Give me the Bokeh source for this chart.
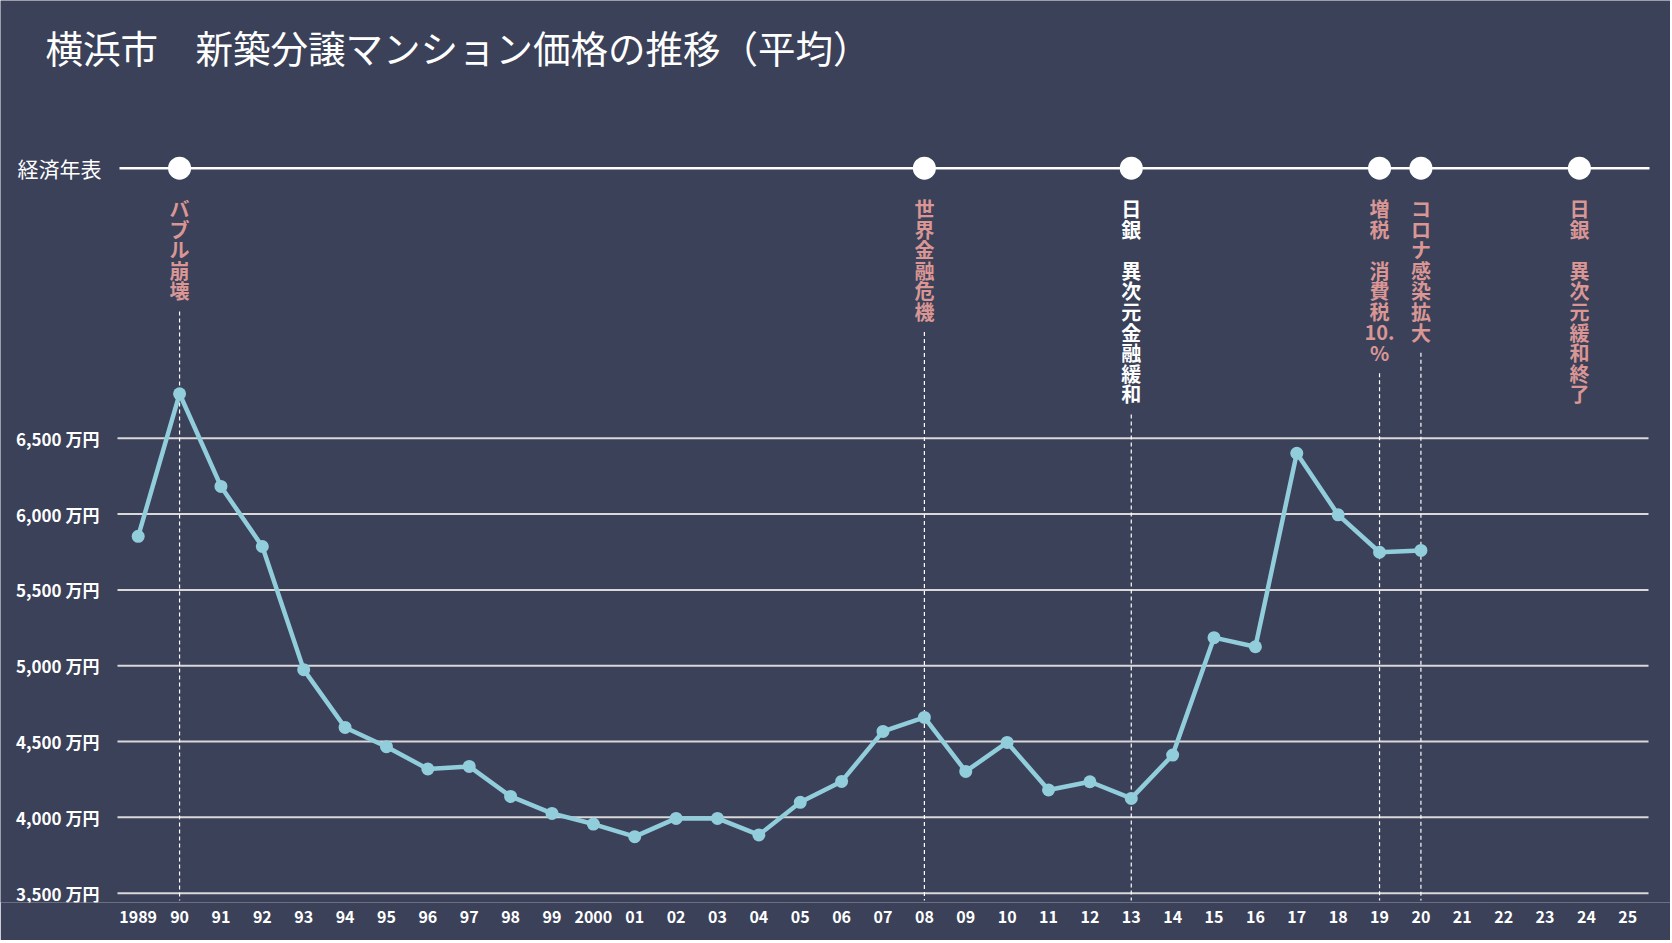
import re
from bokeh.plotting import figure
from bokeh.models import ColumnDataSource, Range1d, FixedTicker
from bokeh.core.properties import value
from bokeh.embed import file_html
from bokeh.resources import INLINE

# ---------------- data ----------------
title_text = "横浜市　新築分譲マンション価格の推移（平均）"
years = list(range(1989, 2021))
prices = [5853, 6793, 6182, 5786, 4974, 4593, 4466, 4319, 4336, 4138,
          4026, 3956, 3873, 3993, 3993, 3884, 4099, 4237, 4567, 4659,
          4303, 4494, 4181, 4235, 4125, 4411, 5185, 5125, 6401, 5995,
          5748, 5760]
y_ticks = [3500, 4000, 4500, 5000, 5500, 6000, 6500]
x_ticks = list(range(1989, 2026))
x_tick_labels = [str(y) if y in (1989, 2000) else f"{y % 100:02d}" for y in x_ticks]

timeline_label = "経済年表"
event_years = [1990, 2008, 2013, 2019, 2020, 2023.83]
event_labels = ["バブル崩壊", "世界金融危機", "日銀　異次元金融緩和",
                "増税　消費税10.%", "コロナ感染拡大", "日銀　異次元緩和終了"]
event_colors = ["#d99694", "#d99694", "#ffffff", "#d99694", "#d99694", "#d99694"]
event_has_line = [True, True, True, True, True, False]

# ---------------- style / layout ----------------
BG = "#3a4159"
LINE = "#92cddc"
GRID = "#d9d9d9"
FONT = "Noto Sans CJK JP"

W, H = 1670, 940
PX_PER_500 = 75.83
UPX = 500.0 / PX_PER_500            # value units per pixel
Y3500 = 892.7                        # page px of the 3,500 line
X0, X1 = 117, 1648                   # page px of the year band area
XPX = (X1 - X0) / 37.0
FRAME_BOTTOM = 902

def yv(py):
    return 3500 + (Y3500 - py) * UPX

def xv(px):
    return 1988.5 + (px - X0) / XPX

p = figure(width=W, height=H, output_backend="svg", toolbar_location=None,
           x_range=Range1d(xv(0), xv(W)), y_range=Range1d(yv(FRAME_BOTTOM), yv(0)),
           background_fill_color=BG, border_fill_color=BG,
           min_border_left=0, min_border_right=0,
           min_border_top=0, min_border_bottom=H - FRAME_BOTTOM)
p.outline_line_color = None
p.xgrid.visible = False
p.ygrid.visible = False

# axes
p.yaxis.fixed_location = 1988.5
p.yaxis.ticker = FixedTicker(ticks=y_ticks)
p.yaxis.major_label_overrides = {v: f"{v:,} 万円" for v in y_ticks}
p.xaxis.ticker = FixedTicker(ticks=x_ticks)
p.xaxis.major_label_overrides = dict(zip(x_ticks, x_tick_labels))
for ax in (p.xaxis, p.yaxis):
    ax.axis_line_color = None
    ax.major_tick_line_color = None
    ax.minor_tick_line_color = None
    ax.major_label_text_color = "#ffffff"
    ax.major_label_text_font = FONT
    ax.major_label_text_font_style = "bold"
    ax.major_label_text_font_size = "16px"
p.yaxis.major_label_text_font_size = "17px"
p.yaxis.major_label_standoff = 12
p.xaxis.major_label_standoff = 2

# horizontal gridlines at the value ticks, across the year bands
p.segment(x0=[1988.5] * len(y_ticks), y0=y_ticks,
          x1=[2025.5] * len(y_ticks), y1=y_ticks,
          line_color=GRID, line_width=2)

# timeline
ty = yv(167.7)
p.line([xv(119), xv(1649)], [ty, ty], line_color="#ffffff", line_width=2.5)
p.scatter(event_years, [ty] * len(event_years), size=23, fill_color="#ffffff",
          line_color=None)

# event labels (vertical, one token per line)
LINE_PX = 20.6
TOP_PX = 198
cx, cy, ct, cc = [], [], [], []
dx, dy0, dy1 = [], [], []
for yr, lab, col, has in zip(event_years, event_labels, event_colors, event_has_line):
    toks = re.findall(r"[0-9.]+|.", lab)
    for i, t in enumerate(toks):
        cx.append(yr)
        cy.append(yv(TOP_PX + 10 + i * LINE_PX))
        ct.append(t)
        cc.append(col)
    if has:
        dx.append(yr)
        dy0.append(yv(TOP_PX + len(toks) * LINE_PX + 10))
        dy1.append(yv(900))

p.segment(x0=dx, y0=dy0, x1=dx, y1=dy1, line_color="#ffffff", line_width=1.2,
          line_dash="4 3")

src = ColumnDataSource(dict(x=cx, y=cy, t=ct, c=cc))
p.text(x="x", y="y", text="t", text_color="c", source=src,
       text_font=value(FONT), text_font_style="bold", text_font_size="20px",
       text_align="center", text_baseline="middle")

# data series
p.line(years, prices, line_color=LINE, line_width=4.5)
p.scatter(years, prices, size=13, fill_color=LINE, line_color=None)

# title and timeline label
p.text(x=[xv(45)], y=[yv(46)], text=[title_text], text_color="#ffffff",
       text_font=value(FONT), text_font_size="37.5px",
       text_align="left", text_baseline="middle")
p.text(x=[xv(17)], y=[ty], text=[timeline_label], text_color="#ffffff",
       text_font=value(FONT), text_font_size="21px",
       text_align="left", text_baseline="middle")

open("out.html", "w").write(file_html(p, INLINE))
